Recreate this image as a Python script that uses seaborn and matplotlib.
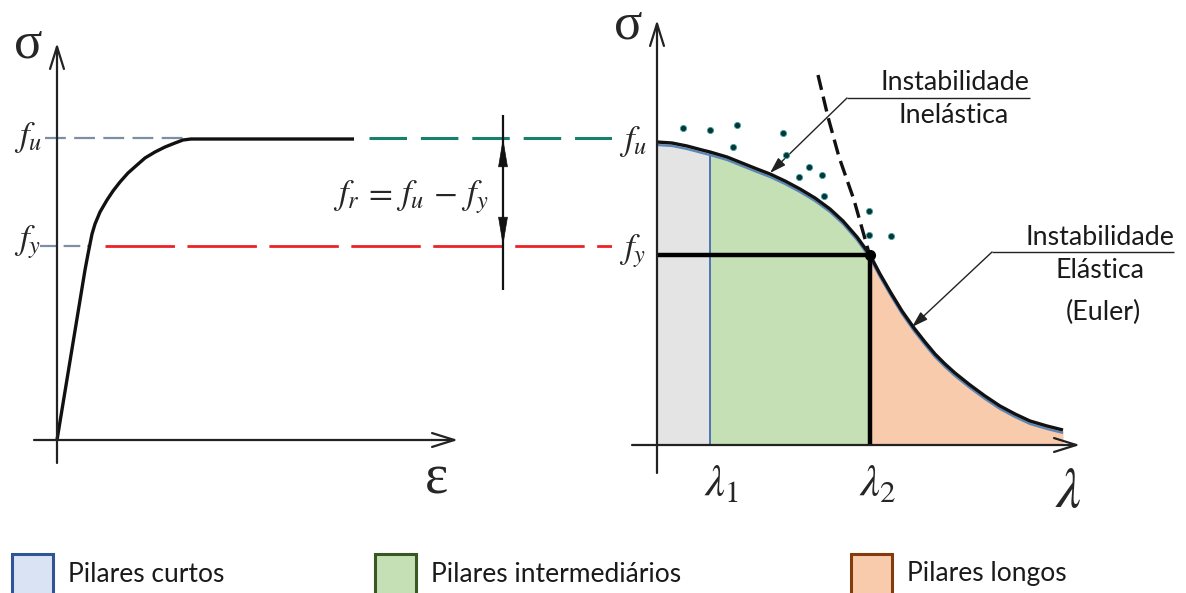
import matplotlib
matplotlib.use("Agg")
import numpy as np
import matplotlib.pyplot as plt
from matplotlib.patches import Rectangle
import seaborn as sns

# ---- stress-strain diagram of steel ----
strain = [0.00, 0.28, 0.31, 0.35, 0.38, 0.43, 0.50, 0.56, 0.63, 0.71, 0.80, 0.88,
          0.98, 1.08, 1.18, 1.26, 1.34, 2.97]
stress = [0.00, 1.70, 1.86, 2.06, 2.16, 2.28, 2.40, 2.49, 2.58, 2.67, 2.75, 2.82,
          2.88, 2.93, 2.97, 3.00, 3.01, 3.01]
f_u = 3.02
f_y = 1.94
eps_yield = 0.31
eps_plateau = 1.34
eps_fr = 4.46

# ---- column strength curve ----
lam_inel = [0.00, 0.15, 0.30, 0.45, 0.53, 0.70, 0.85, 1.00, 1.13, 1.28, 1.43, 1.58,
            1.73, 1.86, 2.00, 2.13]
sig_inel = [3.03, 3.02, 2.99, 2.95, 2.93, 2.88, 2.82, 2.76, 2.71, 2.64, 2.56, 2.47,
            2.36, 2.24, 2.08, 1.90]
lam_euler = [2.13, 2.23, 2.34, 2.45, 2.57, 2.68, 2.78, 2.88, 2.98, 3.13, 3.28, 3.43,
             3.58, 3.73, 3.90, 4.06]
sig_euler = [1.90, 1.71, 1.52, 1.34, 1.17, 1.03, 0.91, 0.81, 0.72, 0.60, 0.49, 0.39,
             0.31, 0.24, 0.19, 0.15]
lam_euler_ext = [1.61, 1.71, 1.82, 1.97, 2.12]
sig_euler_ext = [3.70, 3.28, 2.88, 2.45, 1.92]
lam_1 = 0.53
lam_2 = 2.13
f_u_col = 3.03
f_y_col = 1.90
test_lam = [0.26, 0.53, 0.80, 1.26, 0.76, 1.29, 1.52, 1.42, 1.65, 1.67, 2.12, 2.12, 2.34]
test_sig = [3.17, 3.15, 3.20, 3.12, 2.98, 2.90, 2.78, 2.68, 2.70, 2.49, 2.34, 2.10, 2.09]

categories = ["Pilares curtos", "Pilares intermediários", "Pilares longos"]
cat_fill = ["#dae3f3", "#c5e0b4", "#f8cbad"]
cat_edge = ["#2f5597", "#385723", "#843c0c"]

sns.set_theme(style="white")
plt.rcParams["font.family"] = ["Lato", "DejaVu Sans"]
plt.rcParams["mathtext.fontset"] = "stix"
plt.rcParams["lines.scale_dashes"] = False
plt.rcParams["lines.solid_capstyle"] = "butt"

W, H = 1186, 593
fig = plt.figure(figsize=(W / 100, H / 100), dpi=100)


def region(x0, x1, y_top, y_bot):
    return fig.add_axes([x0 / W, 1 - y_bot / H, (x1 - x0) / W, (y_bot - y_top) / H])


ax_l = region(0, 612, 0, 520)
ax_l.set_xlim(-0.57, 5.55)
ax_l.set_ylim(-0.80, 4.40)
ax_r = region(612, 1186, 0, 520)
ax_r.set_xlim(-0.45, 5.29)
ax_r.set_ylim(-0.75, 4.45)
for a in (ax_l, ax_r):
    a.set_axis_off()

AX = "#222222"
axis_head = "->,head_length=0.8,head_width=0.25"


def axis_arrow(ax, tip, tail):
    ax.annotate("", xy=tip, xytext=tail,
                arrowprops=dict(arrowstyle=axis_head, lw=1.6, color=AX,
                                shrinkA=0, shrinkB=0, mutation_scale=20))


# ---------------- left: sigma-epsilon ----------------
axis_arrow(ax_l, (0, 3.97), (0, -0.23))
axis_arrow(ax_l, (4.01, 0), (-0.23, 0))

ax_l.plot([-0.12, eps_plateau], [f_u, f_u], color="#7d8da3", lw=1.6, dashes=(15, 6))
ax_l.plot([-0.17, eps_yield], [f_y, f_y], color="#7d8da3", lw=1.6, dashes=(12, 5))
ax_l.plot([0.48, 5.55], [f_y, f_y], color="#ec2227", lw=2.0, dashes=(50, 9))
ax_l.plot([3.12, 5.55], [f_u, f_u], color="#17806b", lw=2.2, dashes=(27, 10))

sns.lineplot(x=strain, y=stress, ax=ax_l, color="#111111", lw=2.4,
             sort=False, estimator=None)

# dimension arrow for f_r
ax_l.plot([eps_fr, eps_fr], [1.50, 3.25], color="#111111", lw=1.6)
head = dict(arrowstyle="-|>,head_length=1.2,head_width=0.2", mutation_scale=16,
            lw=0.5, color="#111111", shrinkA=0, shrinkB=0)
ax_l.annotate("", xy=(eps_fr, f_u), xytext=(eps_fr, f_u - 0.3), arrowprops=head)
ax_l.annotate("", xy=(eps_fr, f_y), xytext=(eps_fr, f_y + 0.3), arrowprops=head)

ax_l.text(3.54, 2.43, r"$f_r\,=\,f_u\,-\,f_y$", fontsize=25, ha="center", va="center")
ax_l.text(-0.29, f_u + 0.01, r"$f_u$", fontsize=25, ha="center", va="center")
ax_l.text(-0.29, f_y + 0.04, r"$f_y$", fontsize=25, ha="center", va="center")
ax_l.text(-0.29, 3.83, "σ", fontsize=38, family="Liberation Serif", ha="center", va="baseline")
ax_l.text(3.79, -0.53, "ε", fontsize=40, family="Liberation Serif", ha="center", va="baseline")

# ---------------- right: column curve ----------------
lam = np.array(lam_inel + lam_euler[1:])
sig = np.array(sig_inel + sig_euler[1:])

ax_r.fill_between(lam, 0, sig, where=lam <= lam_1, color="#e4e4e4", lw=0)
ax_r.fill_between(lam, 0, sig, where=(lam >= lam_1) & (lam <= lam_2), color=cat_fill[1], lw=0)
ax_r.fill_between(lam, 0, sig, where=lam >= lam_2, color=cat_fill[2], lw=0)

short = lam <= lam_1
ax_r.plot([0, 0], [0, f_u_col], color="#4f73b4", lw=1.4)
ax_r.plot([lam_1, lam_1], [0, sig[short][-1]], color="#4f73b4", lw=1.4)
ax_r.plot(lam, sig - 0.03, color="#5a86b8", lw=1.6)

sns.lineplot(x=lam, y=sig, ax=ax_r, color="#111111", lw=2.4, sort=False, estimator=None)
ax_r.plot(lam_euler_ext, sig_euler_ext, color="#111111", lw=2.4, dashes=(11, 5))

ax_r.plot([0, lam_2], [f_y_col, f_y_col], color="#000000", lw=3.2)
ax_r.plot([lam_2, lam_2], [0, f_y_col], color="#000000", lw=3.2)
ax_r.plot([lam_2], [f_y_col], "o", ms=7, color="#000000")

sns.scatterplot(x=test_lam, y=test_sig, ax=ax_r, s=20, color="#0c3434",
                edgecolor="#3aa7a7", linewidth=0.6, zorder=5)

axis_arrow(ax_r, (0, 4.25), (0, -0.28))
axis_arrow(ax_r, (4.23, 0), (-0.25, 0))

# callouts
ax_r.plot([1.90, 3.73], [3.47, 3.47], color="#222222", lw=1.0)
ax_r.plot([3.35, 5.17], [1.93, 1.93], color="#222222", lw=1.0)
callout = dict(arrowstyle="-|>,head_length=0.7,head_width=0.22", mutation_scale=14,
               lw=1.0, color="#222222", shrinkA=0, shrinkB=0)
ax_r.annotate("", xy=(1.13, 2.72), xytext=(1.90, 3.47), arrowprops=callout)
ax_r.annotate("", xy=(2.55, 1.18), xytext=(3.35, 1.93), arrowprops=callout)

tfs = 19.3
tc = "#1a1a1a"
ax_r.text(2.98, 3.63, "Instabilidade", fontsize=tfs, ha="center", va="center", color=tc)
ax_r.text(2.97, 3.30, "Inelástica", fontsize=tfs, ha="center", va="center", color=tc)
ax_r.text(4.43, 2.08, "Instabilidade", fontsize=tfs, ha="center", va="center", color=tc)
ax_r.text(4.43, 1.75, "Elástica", fontsize=tfs, ha="center", va="center", color=tc)
ax_r.text(4.46, 1.33, "(Euler)", fontsize=tfs, ha="center", va="center", color=tc)

ax_r.text(-0.24, f_u_col + 0.01, r"$f_u$", fontsize=25, ha="center", va="center")
ax_r.text(-0.24, f_y_col + 0.04, r"$f_y$", fontsize=25, ha="center", va="center")
ax_r.text(-0.29, 4.07, "σ", fontsize=38, family="Liberation Serif", ha="center", va="baseline")
ax_r.text(lam_1 + 0.12, -0.38, r"$\lambda_1$", fontsize=32, ha="center", va="center")
ax_r.text(lam_2 + 0.08, -0.38, r"$\lambda_2$", fontsize=32, ha="center", va="center")
ax_r.text(4.11, -0.46, r"$\lambda$", fontsize=40, ha="center", va="center")

# ---------------- key strip along the bottom edge ----------------
ax_k = region(0, 1186, 540, 593)
ax_k.set_xlim(0, W)
ax_k.set_ylim(593, 540)
ax_k.set_axis_off()
key_x = [12, 375, 851]
for x, name, fc, ec in zip(key_x, categories, cat_fill, cat_edge):
    ax_k.add_patch(Rectangle((x, 554), 41, 50, facecolor=fc, edgecolor=ec, lw=2.2))
    ax_k.text(x + 56, 574, name, fontsize=19, ha="left", va="center", color="#1a1a1a")

fig.savefig("out.png", dpi=100, facecolor="white")
